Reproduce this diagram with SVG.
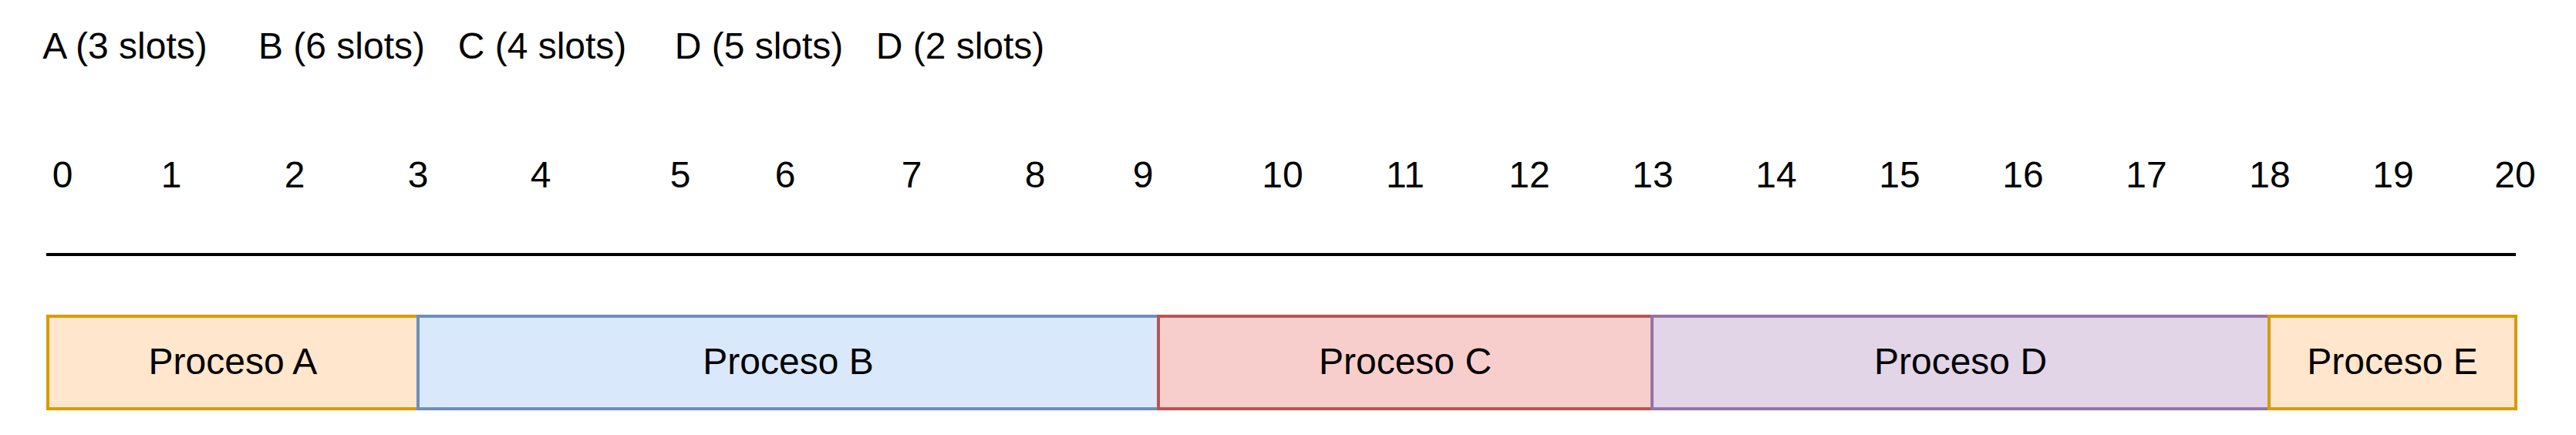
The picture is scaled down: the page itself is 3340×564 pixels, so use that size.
<svg xmlns="http://www.w3.org/2000/svg" width="3340" height="564" viewBox="0 0 3340 564">
<style>
text{font-family:"Liberation Sans",Arial,sans-serif;font-size:48px;fill:#000;text-anchor:middle}
.box{stroke-width:4}
.o{fill:#ffe6cc;stroke:#d79b00}
.b{fill:#dae8fc;stroke:#6c8ebf}
.r{fill:#f8cecc;stroke:#b85450}
.p{fill:#e1d5e7;stroke:#9673a6}
</style>
<rect width="3340" height="564" fill="#fff"/>
<g id="labels">
<text x="162" y="76">A (3 slots)</text>
<text x="443" y="76">B (6 slots)</text>
<text x="703" y="76">C (4 slots)</text>
<text x="984" y="76">D (5 slots)</text>
<text x="1245" y="76">D (2 slots)</text>
</g>
<g id="scale">
<text x="81" y="243">0</text>
<text x="222" y="243">1</text>
<text x="382" y="243">2</text>
<text x="542" y="243">3</text>
<text x="701" y="243">4</text>
<text x="882" y="243">5</text>
<text x="1018" y="243">6</text>
<text x="1182" y="243">7</text>
<text x="1342" y="243">8</text>
<text x="1482" y="243">9</text>
<text x="1663" y="243">10</text>
<text x="1822" y="243">11</text>
<text x="1983" y="243">12</text>
<text x="2143" y="243">13</text>
<text x="2303" y="243">14</text>
<text x="2463" y="243">15</text>
<text x="2623" y="243">16</text>
<text x="2783" y="243">17</text>
<text x="2943" y="243">18</text>
<text x="3103" y="243">19</text>
<text x="3261" y="243">20</text>
</g>
<g id="connectors">
<line x1="60" y1="330" x2="3262" y2="330" stroke="#000" stroke-width="4"/>
</g>
<g id="procA"><rect class="box o" x="62" y="410" width="480" height="120"/><text x="302" y="485">Proceso A</text></g>
<g id="procB"><rect class="box b" x="542" y="410" width="960" height="120"/><text x="1022" y="485">Proceso B</text></g>
<g id="procC"><rect class="box r" x="1502" y="410" width="640" height="120"/><text x="1822" y="485">Proceso C</text></g>
<g id="procD"><rect class="box p" x="2142" y="410" width="800" height="120"/><text x="2542" y="485">Proceso D</text></g>
<g id="procE"><rect class="box o" x="2942" y="410" width="320" height="120"/><text x="3102" y="485">Proceso E</text></g>
</svg>
